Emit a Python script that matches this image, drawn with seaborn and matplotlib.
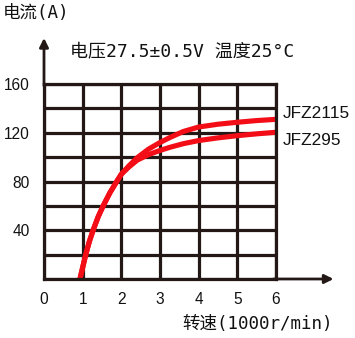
import matplotlib
matplotlib.use("Agg")
import matplotlib.pyplot as plt
import seaborn as sns
import pandas as pd

# ---- data ----
speed = [0.93, 1.0, 1.08, 1.17, 1.27, 1.4, 1.53, 1.7, 1.88, 2.0, 2.2, 2.41, 2.7, 3.0,
         3.25, 3.6, 4.0, 4.5, 5.0, 5.5, 6.0]
current_jfz2115 = [0, 9.5, 20, 30.5, 40, 51, 60, 70.5, 80, 86, 93, 99.5, 106.5, 112,
                   116, 121, 124.7, 127, 128.6, 130, 131]
current_jfz295 = [0, 9.5, 20, 30.5, 40, 51, 60, 70.5, 80, 86, 92, 97.5, 102, 105.5,
                  108, 111, 113.6, 115.8, 117.6, 119.1, 120.4]
series_names = ["JFZ2115", "JFZ295"]
x_ticks = [0, 1, 2, 3, 4, 5, 6]
y_ticks = [0, 20, 40, 60, 80, 100, 120, 140, 160]
y_tick_labels = ["", "", "40", "", "80", "", "120", "", "160"]
title_text = "电压27.5±0.5V 温度25°C"
y_label = "电流(A)"
x_label = "转速(1000r/min)"

df = pd.concat([
    pd.DataFrame({"speed": speed, "current": current_jfz2115, "model": series_names[0]}),
    pd.DataFrame({"speed": speed, "current": current_jfz295, "model": series_names[1]}),
])

sns.set_style("white")
plt.rcParams["font.family"] = ["Liberation Sans", "Noto Sans CJK SC", "DejaVu Sans"]

DARK = "#231815"
RED = "#f20d17"

fig = plt.figure(figsize=(3.55, 3.38), dpi=100)
ax = fig.add_axes([44 / 355, 1 - 279 / 338, 232 / 355, 195 / 338])

sns.lineplot(data=df, x="speed", y="current", hue="model",
             palette=[RED, RED], linewidth=3.7, legend=False, ax=ax, zorder=3,
             estimator=None, sort=False)
for ln in ax.lines:
    ln.set_solid_joinstyle("round")

ax.set_xlim(0, 6)
ax.set_ylim(0, 160)
ax.set_xticks(x_ticks)
ax.set_yticks(y_ticks)
ax.set_yticklabels(y_tick_labels)
ax.grid(True, color=DARK, linewidth=2.3, zorder=1)
ax.set_axisbelow(True)
for s in ax.spines.values():
    s.set_color(DARK)
    s.set_linewidth(2.3)
    s.set_zorder(4)
ax.tick_params(axis="both", length=0, labelsize=11.2, colors="#111111")
ax.tick_params(axis="x", pad=9)
ax.tick_params(axis="y", pad=10)
ax.set_xlabel("")
ax.set_ylabel("")

# arrows
ax.annotate("", xy=(1.248, 0), xytext=(0.99, 0), xycoords="axes fraction",
            textcoords="axes fraction", annotation_clip=False,
            arrowprops=dict(arrowstyle="-|>", color=DARK, lw=2.0, mutation_scale=13,
                            shrinkA=0, shrinkB=0))
ax.annotate("", xy=(0, 1.236), xytext=(0, 0.99), xycoords="axes fraction",
            textcoords="axes fraction", annotation_clip=False,
            arrowprops=dict(arrowstyle="-|>", color=DARK, lw=2.0, mutation_scale=13,
                            shrinkA=0, shrinkB=0))

# curve labels
ax.text(6.18, 136, series_names[0], fontsize=12.4, color="#111111", va="center", ha="left",
        clip_on=False)
ax.text(6.18, 114, series_names[1], fontsize=12.4, color="#111111", va="center", ha="left",
        clip_on=False)

mono_cjk = ["DejaVu Sans Mono", "Noto Sans CJK SC"]
fig.text(70 / 355, 1 - 52 / 338, title_text, fontsize=13.0, family=mono_cjk,
         va="center", ha="left", color="#111111")
fig.text(3 / 355, 1 - 13 / 338, y_label, fontsize=12.6, family=mono_cjk,
         va="center", ha="left", color="#111111")
fig.text(333 / 355, 1 - 324 / 338, x_label, fontsize=12.6, family=mono_cjk,
         va="center", ha="right", color="#111111")

fig.savefig("out.png", dpi=100)
